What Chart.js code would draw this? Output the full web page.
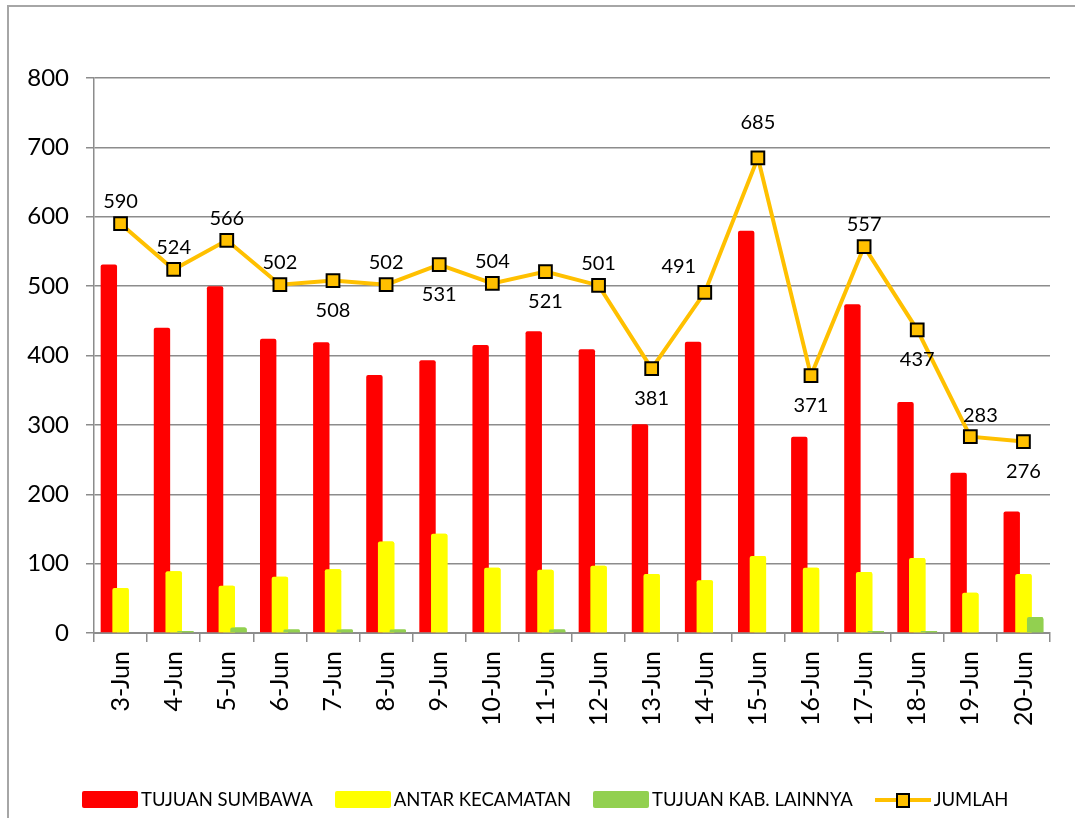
<!DOCTYPE html>
<html>
<head>
<meta charset="utf-8">
<script src="https://cdn.jsdelivr.net/npm/chart.js@4.4.1/dist/chart.umd.min.js"></script>
<style>
  html, body { margin:0; padding:0; background:#fff; }
  body { width:1075px; height:818px; position:relative; overflow:hidden; font-family:Lato, sans-serif; }
  #frame { position:absolute; left:7px; top:5px; width:1200px; height:1000px; border-left:2px solid #a6a6a6; border-top:2px solid #a6a6a6; }
  #chartCanvas { position:absolute; left:0; top:0; }
  #legend { position:absolute; left:82px; top:788px; display:flex; align-items:center; font-size:18.5px; color:#000; }
  .item { display:flex; align-items:center; margin-right:22px; }
  .box { width:56px; height:17px; border-radius:2px; margin-right:3px; }
  .lineKey { position:relative; width:56px; height:17px; margin-right:3px; }
  .lineKey .seg { position:absolute; left:0; right:0; top:7px; height:4px; }
  .lineKey .mk { position:absolute; left:21px; top:2px; width:10px; height:11px; border:2px solid #000; }
</style>
</head>
<body>
<div id="frame"></div>
<canvas id="chartCanvas" width="1075" height="818"></canvas>
<div id="legend"></div>
<script>
// ---------------------------
// Data
// ---------------------------
const days = ['3-Jun','4-Jun','5-Jun','6-Jun','7-Jun','8-Jun','9-Jun','10-Jun','11-Jun','12-Jun','13-Jun','14-Jun','15-Jun','16-Jun','17-Jun','18-Jun','19-Jun','20-Jun'];
const tujuanSumbawa  = [531,440,500,424,419,372,393,415,435,409,301,420,580,283,474,333,231,175];
const antarKecamatan = [65,89,68,81,92,132,143,94,91,97,85,76,111,94,88,108,58,85];
const tujuanKabLain  = [0,3,8,5,5,5,0,0,5,0,0,0,0,0,3,3,0,23];
const jumlah         = [590,524,566,502,508,502,531,504,521,501,381,491,685,371,557,437,283,276];
// where each JUMLAH label sits relative to its marker
const labelSide = ['t','t','t','t','b','t','b','t','b','t','b','tl','T','b','t','b','tr','b'];

const seriesNames  = ['TUJUAN SUMBAWA','ANTAR KECAMATAN','TUJUAN KAB. LAINNYA','JUMLAH'];
const seriesColors = ['#FF0000','#FFFF00','#92D050','#FFC000'];
const yMin = 0, yMax = 800, yStep = 100;

const GRID = '#8c8c8c';
const FONT = 'Lato, sans-serif';

// ---------------------------
// Plugins
// ---------------------------
// later bar series overlap the earlier one (Excel style), so paint yellow then green again on top
const barOverlap = {
  id:'barOverlap',
  afterDatasetsDraw(chart){
    [1,2].forEach(i=>{ const m = chart.getDatasetMeta(i); if (m.visible) m.controller.draw(); });
  }
};
const sideOffset = { t:[0,-22], T:[0,-35], b:[0,30], tl:[-26,-26], tr:[10,-21] };
const pointLabels = {
  id:'pointLabels',
  afterDatasetsDraw(chart){
    const ctx = chart.ctx;
    const meta = chart.getDatasetMeta(3);
    ctx.save();
    ctx.font = '20px ' + FONT;
    ctx.fillStyle = '#000';
    ctx.textAlign = 'center';
    ctx.textBaseline = 'middle';
    meta.data.forEach((pt,i)=>{
      const o = sideOffset[labelSide[i]] || sideOffset.t;
      ctx.fillText(String(jumlah[i]), pt.x + o[0], pt.y + o[1]);
    });
    ctx.restore();
  }
};

// ---------------------------
// Chart
// ---------------------------
const barCommon = { categoryPercentage:0.661, barPercentage:1.4, borderRadius:2, borderSkipped:'start', order:0 };

new Chart(document.getElementById('chartCanvas'), {
  data:{
    labels: days,
    datasets:[
      Object.assign({ type:'bar', label:seriesNames[0], data:tujuanSumbawa,  backgroundColor:seriesColors[0] }, barCommon),
      Object.assign({ type:'bar', label:seriesNames[1], data:antarKecamatan, backgroundColor:seriesColors[1] }, barCommon),
      Object.assign({ type:'bar', label:seriesNames[2], data:tujuanKabLain,  backgroundColor:seriesColors[2] }, barCommon),
      { type:'line', label:seriesNames[3], data:jumlah, order:-1,
        borderColor:seriesColors[3], borderWidth:4, tension:0,
        pointStyle:'rect', pointRadius:9, pointHoverRadius:9,
        pointBackgroundColor:seriesColors[3], pointBorderColor:'#000', pointBorderWidth:2 }
    ]
  },
  options:{
    responsive:false,
    animation:false,
    events:[],
    layout:{ padding:{ top:78, right:25, bottom:0, left:0 } },
    plugins:{ legend:{ display:false }, tooltip:{ enabled:false } },
    scales:{
      x:{
        afterFit(s){ s.height = 818 - 633; },
        grid:{ offset:true, drawOnChartArea:false, drawTicks:true, tickLength:9, color:GRID, lineWidth:1.5 },
        border:{ color:GRID, width:2 },
        ticks:{ minRotation:90, maxRotation:90, autoSkip:false, padding:9, color:'#000', font:{ family:FONT, size:25 } }
      },
      y:{
        min:yMin, max:yMax,
        afterFit(s){ s.width = 94; },
        grid:{ color:GRID, lineWidth:1.5, tickLength:8 },
        border:{ color:GRID, width:1.5 },
        ticks:{ stepSize:yStep, padding:17, color:'#000', font:{ family:FONT, size:24 } }
      }
    }
  },
  plugins:[barOverlap, pointLabels]
});

// ---------------------------
// Legend
// ---------------------------
const legend = document.getElementById('legend');
seriesNames.forEach((name,i)=>{
  const item = document.createElement('div');
  item.className = 'item';
  if (i < 3) {
    item.innerHTML = `<span class="box" style="background:${seriesColors[i]}"></span><span>${name}</span>`;
  } else {
    item.innerHTML = `<span class="lineKey"><span class="seg" style="background:${seriesColors[i]}"></span><span class="mk" style="background:${seriesColors[i]}"></span></span><span>${name}</span>`;
  }
  legend.appendChild(item);
});
</script>
</body>
</html>
